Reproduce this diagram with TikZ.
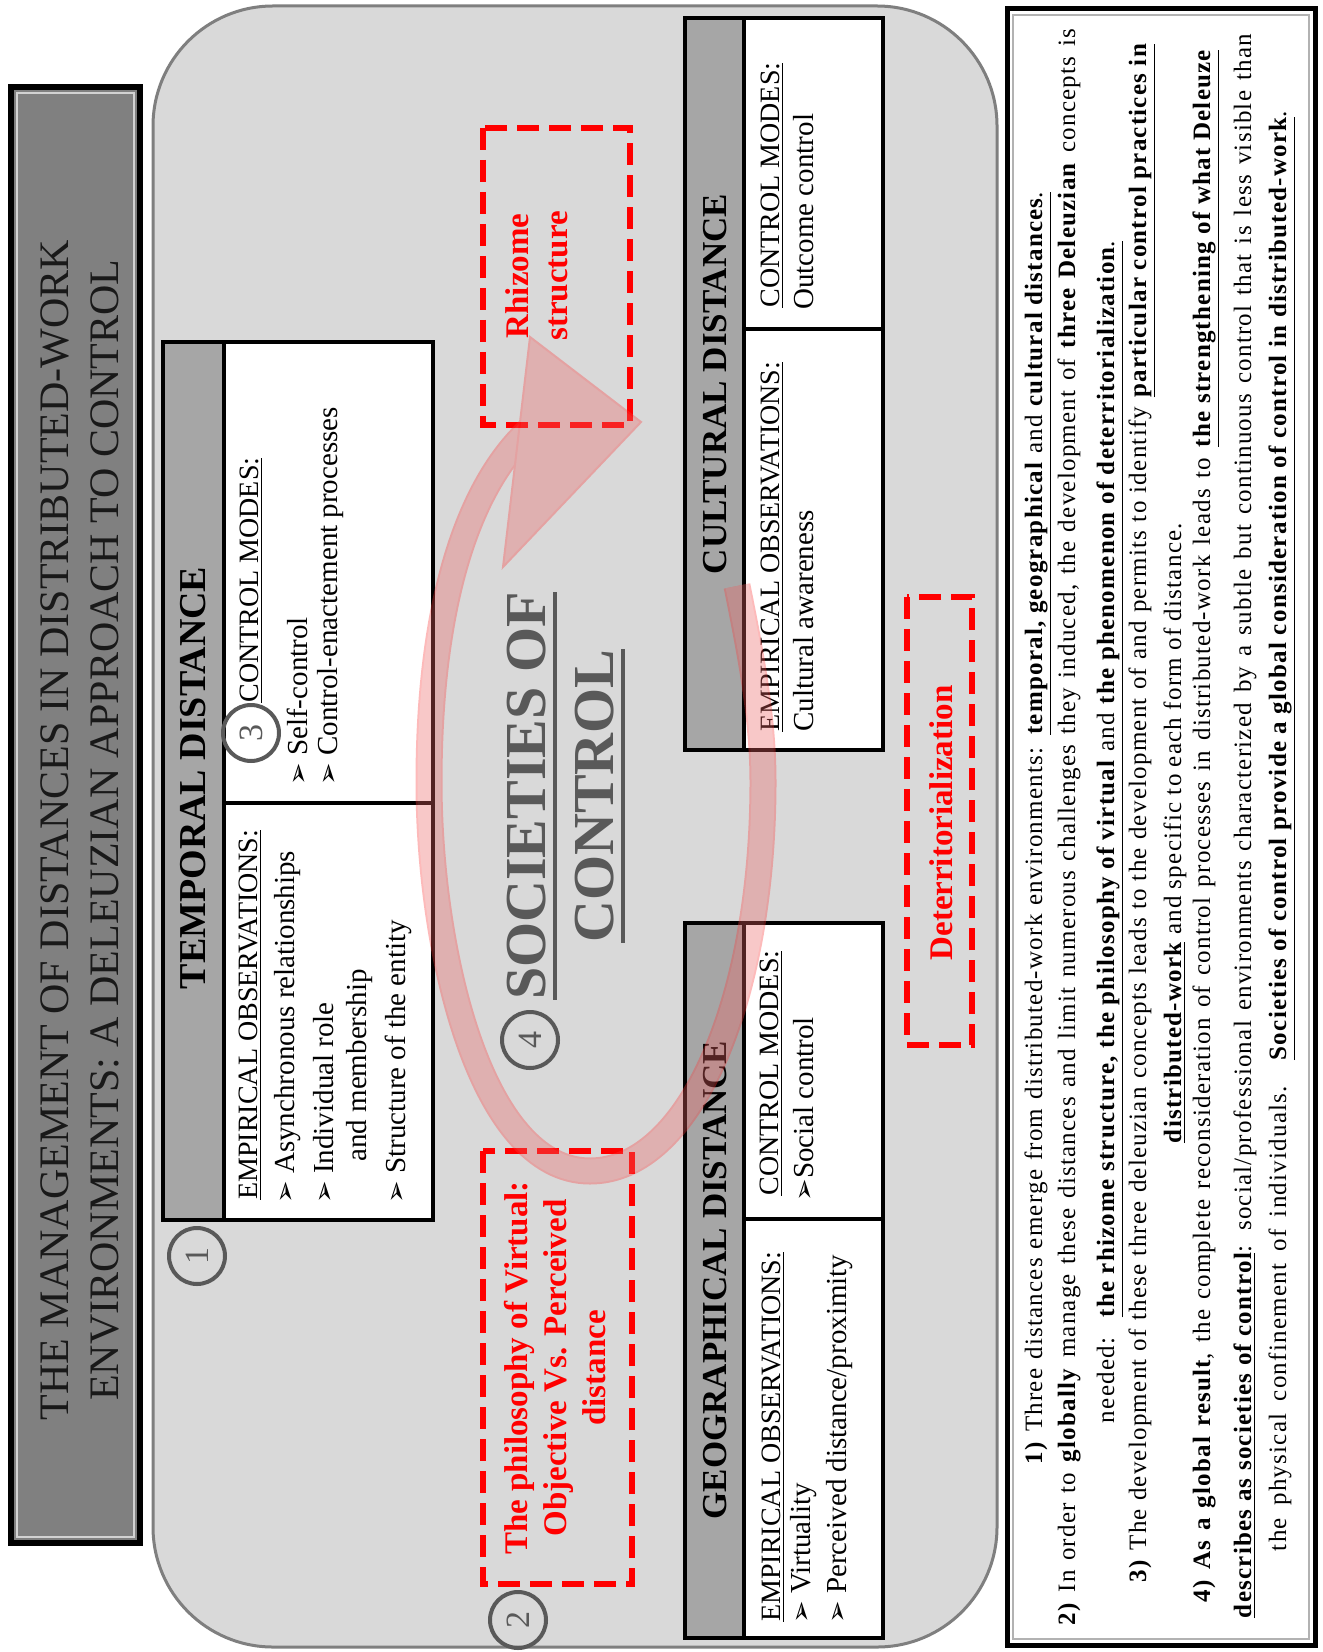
\documentclass[tikz,border=0pt]{standalone}
\usepackage{fontspec}
\setmainfont{Liberation Serif}
\newfontfamily\dingfont{DejaVu Sans}
\newfontfamily\bodyfont[LetterSpace=5]{Liberation Serif}
\definecolor{PanelGray}{HTML}{D9D9D9}
\definecolor{PanelEdge}{HTML}{7F7F7F}
\definecolor{TitleGray}{HTML}{808080}
\definecolor{HeadGray}{HTML}{A6A6A6}
\definecolor{NumGray}{HTML}{595959}
\definecolor{RingFill}{RGB}{237,100,100}
\definecolor{RingEdge}{RGB}{250,60,60}
\newcommand{\bulglyph}{{\dingfont\fontsize{13.5}{13.5}\selectfont\char"27A2}}
\newcommand{\itembul}{\bulglyph\ }
\newcommand{\thickul}[1]{\leavevmode\setbox0=\hbox{#1}\rlap{\rule[-6pt]{\wd0}{2pt}}\box0}
\tikzset{
    rot/.style={rotate=90, inner sep=0pt},
    titletxt/.style={rot, align=center, text=black!90, font=\fontsize{21}{25}\selectfont},
    headtxt/.style={rot, font=\bfseries\fontsize{17.5}{20}\selectfont},
    subhead/.style={rot, anchor=west, font=\fontsize{14}{16}\selectfont},
    itemtxt/.style={rot, anchor=west, font=\fontsize{14.5}{16}\selectfont},
    redlbl/.style={rot, align=center, text=red, font=\bfseries\fontsize{16.5}{19.5}\selectfont},
    redbox/.style={draw=red, line width=3pt, dash pattern=on 11pt off 5pt},
    numcirc/.style={circle, rotate=90, draw=NumGray, line width=2pt, minimum size=28pt, inner sep=0pt, text=NumGray, font=\fontsize{17}{17}\selectfont},
    boxline/.style={draw=black, line width=2pt},
    bodytxt/.style={rot, font=\bodyfont\fontsize{12.5}{14}\selectfont},
    soctxt/.style={rot, anchor=base, text=NumGray, font=\bfseries\fontsize{29}{34}\selectfont},
}
\begin{document}
\begin{tikzpicture}[x=0.5pt, y=-0.5pt]
\useasboundingbox[fill=white] (0,0) rectangle (1322,1652);

% fond gris arrondi
\draw[fill=PanelGray, draw=PanelEdge, line width=1.5pt, rounded corners=60pt] (153,6) rectangle (997,1647);

% titre
\draw[fill=TitleGray, line width=3pt] (11,87) rectangle (140,1543);
\draw[gray!35, line width=0.6pt] (17,93) rectangle (134,1537);
\node[titletxt] (title) at (80,830) {THE MANAGEMENT OF DISTANCES IN DISTRIBUTED-WORK\\ENVIRONMENTS: A DELEUZIAN APPROACH TO CONTROL};

% encadre de texte
\draw[fill=white, line width=2.5pt] (1007,9) rectangle (1315,1645);
\draw[gray!60, line width=0.6pt] (1013,15) rectangle (1309,1639);

% temporal distance
\draw[boxline, fill=white] (163,342) rectangle (433,1220);
\draw[boxline, fill=HeadGray] (163,342) rectangle (224,1220);
\draw[boxline] (224,803) -- (433,803);
\node[headtxt, font=\bfseries\fontsize{19}{20}\selectfont] (temphead) at (193,778) {TEMPORAL DISTANCE};
\node[subhead] (tempctrl) at (251,703) {\underline{CONTROL MODES:}};
\node[itemtxt] (tempc1) at (297,786) {\itembul Self-control};
\node[itemtxt] (tempc2) at (331,786) {\itembul Control-enactement processes};
\node[subhead] (tempemp) at (250,1200) {\underline{EMPIRICAL OBSERVATIONS:}};
\node[itemtxt] (tempe1) at (288,1204) {\itembul Asynchronous relationships};
\node[itemtxt] (tempe2) at (324,1204) {\itembul Individual role};
\node[itemtxt] (tempe2b) at (360,1162) {and membership};
\node[itemtxt] (tempe3) at (398,1204) {\itembul Structure of the entity};

% geographical distance
\draw[boxline, fill=white] (685,923) rectangle (883,1638);
\draw[boxline, fill=HeadGray] (685,923) rectangle (744,1638);
\draw[boxline] (744,1219) -- (883,1219);
\node[headtxt] (geohead) at (715,1280) {GEOGRAPHICAL DISTANCE};
\node[subhead] (geoctrl) at (771,1196) {\underline{CONTROL MODES:}};
\node[itemtxt] (geoc1) at (804,1202) {\bulglyph Social control};
\node[subhead] (geoemp) at (773,1622) {\underline{EMPIRICAL OBSERVATIONS:}};
\node[itemtxt] (geoe1) at (804,1624) {\itembul Virtuality};
\node[itemtxt] (geoe2) at (840,1624) {\itembul Perceived distance/proximity};

% cultural distance
\draw[boxline, fill=white] (685,18) rectangle (883,750);
\draw[boxline, fill=HeadGray] (685,18) rectangle (744,750);
\draw[boxline] (744,329) -- (883,329);
\node[headtxt] (culthead) at (715,384) {CULTURAL DISTANCE};
\node[subhead] (cultctrl) at (772,308) {\underline{CONTROL MODES:}};
\node[itemtxt] (cultc1) at (804,310) {Outcome control};
\node[subhead] (cultemp) at (772,732) {\underline{EMPIRICAL OBSERVATIONS:}};
\node[itemtxt] (culte1) at (804,732) {Cultural awareness};

% concepts (cadres rouges)
\draw[redbox] (483,128) rectangle (630,425);
\node[redlbl] (rhizome) at (537,276) {Rhizome\\structure};
\draw[redbox] (483,1151) rectangle (632,1584);
\node[redlbl] (virtual) at (555,1368) {The philosophy of Virtual:\\Objective Vs. Perceived\\distance};
\draw[redbox] (907,597) rectangle (972,1045);
\node[redlbl] (deterr) at (941,823) {Deterritorialization};

% societes de controle
\node[soctxt] (soc1) at (545,796) {\thickul{SOCIETIES OF}};
\node[soctxt] (soc2) at (613,796) {\thickul{CONTROL}};

% numeros
\node[numcirc] (num1) at (197,1256) {1};
\node[numcirc] (num2) at (518,1620) {2};
\node[numcirc] (num3) at (251,733) {3};
\node[numcirc] (num4) at (530,1040) {4};

% fleche circulaire
\begin{scope}[transparency group, opacity=0.35]
    \draw[draw=RingEdge, double=RingFill, double distance=11.5pt, line width=1pt]
        (737,586) .. controls (752,660) and (763,720) .. (763,782)
        .. controls (763,1000) and (690,1171) .. (590,1171)
        .. controls (480,1171) and (429,950) .. (429,782)
        .. controls (429,600) and (470,480) .. (535,425);
    \filldraw[fill=RingFill, draw=RingEdge, line width=1pt] (530,337) -- (641,422) -- (503,567) -- cycle;
\end{scope}

% texte explicatif
\node[bodytxt] (line1) at (1038,828) {\makebox[636pt][s]{\textbf{1)} Three distances emerge from distributed-work environments: \underline{\textbf{temporal, geographical} and \textbf{cultural distances}.}}};
\node[bodytxt] (line2) at (1069,827) {\makebox[798pt][s]{\textbf{2)} In order to \textbf{globally} manage these distances and limit numerous challenges they induced, the development of \textbf{three Deleuzian} concepts is}};
\node[bodytxt] (line3) at (1110,832) {\makebox[591pt][s]{needed: \underline{\textbf{the rhizome structure, the philosophy of virtual} and \textbf{the phenomenon of deterritorialization}.}}};
\node[bodytxt] (line4) at (1142,813) {\makebox[769pt][s]{\textbf{3)} The development of these three deleuzian concepts leads to the development of and permits to identify \textbf{\underline{particular control practices in}}}};
\node[bodytxt] (line5) at (1175,833) {\makebox[310pt][s]{\textbf{\underline{distributed-work}} and specific to each form of distance.}};
\node[bodytxt] (line6) at (1206,826) {\makebox[776pt][s]{\textbf{4) As a global result}, the complete reconsideration of control processes in distributed-work leads to \textbf{\underline{the strengthening of what Deleuze}}}};
\node[bodytxt] (line7) at (1245,826) {\makebox[792pt][s]{\textbf{\underline{describes as societies of control}}: social/professional environments characterized by a subtle but continuous control that is less visible than}};
\node[bodytxt] (line8) at (1282,831) {\makebox[720pt][s]{the physical confinement of individuals. \textbf{\underline{Societies of control provide a global consideration of control in distributed-work}}.}};
\end{tikzpicture}
\end{document}
